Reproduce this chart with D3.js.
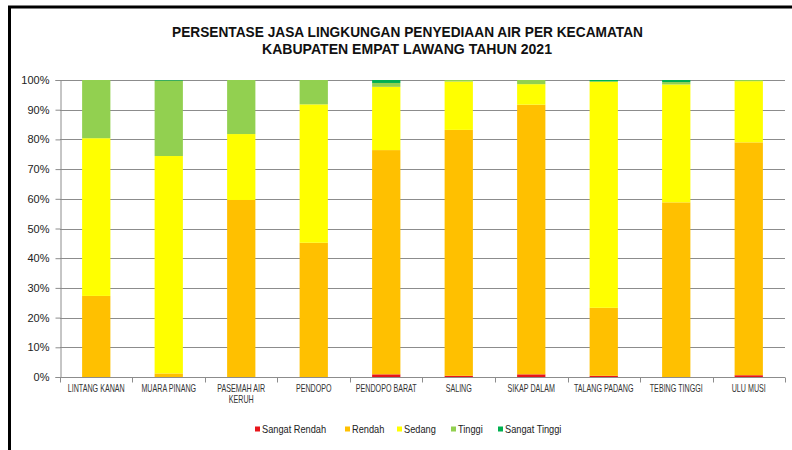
<!DOCTYPE html>
<html>
<head>
<meta charset="utf-8">
<script src="https://cdn.jsdelivr.net/npm/d3@7"></script>
<style>
  body { margin: 0; background: #fff; }
  svg { display: block; }
  text { font-family: "Liberation Sans", Arial, sans-serif; }
</style>
</head>
<body>
<div id="chart"></div>
<script>
/* data, in percent */
var kecamatan = ["LINTANG KANAN", "MUARA PINANG", "PASEMAH AIR KERUH", "PENDOPO", "PENDOPO BARAT",
                 "SALING", "SIKAP DALAM", "TALANG PADANG", "TEBING TINGGI", "ULU MUSI"];
var kelas = ["Sangat Rendah", "Rendah", "Sedang", "Tinggi", "Sangat Tinggi"];
var sangatRendah = [0, 0, 0, 0, 0.9, 0.4, 0.9, 0.4, 0, 0.6];
var rendah       = [27.3, 1.2, 59.6, 45.2, 75.5, 82.8, 90.8, 22.9, 58.8, 78.4];
var sedang       = [53.1, 73.2, 22.2, 46.6, 21.3, 16.3, 6.9, 76.2, 39.7, 20.6];
var tinggi       = [19.6, 25.4, 18.2, 8.2, 1.3, 0.5, 1.4, 0, 0.8, 0.4];
var sangatTinggi = [0, 0.2, 0, 0, 1.0, 0, 0, 0.5, 0.7, 0];
var yTicks = [0, 10, 20, 30, 40, 50, 60, 70, 80, 90, 100];
var warna = ["#e8151b", "#ffc000", "#ffff00", "#92d050", "#00b050"];

var W = 792, H = 450;
var margin = {top: 80, right: 7, bottom: 73, left: 60};

var svg = d3.select("#chart").append("svg").attr("width", W).attr("height", H);

// no narrow font installed, so squeeze text horizontally
function narrow(sel, s) {
  sel.attr("transform", "scale(" + s + ",1)");
}

// frame of the picture
svg.append("rect").attr("x", 0).attr("y", 0).attr("width", W).attr("height", H).attr("fill", "#fff");
svg.append("path")
  .attr("d", "M9.5," + H + "V7H" + W)
  .attr("fill", "none").attr("stroke", "#000").attr("stroke-width", 3);

// title
var title = svg.append("g").attr("font-weight", "bold").attr("font-size", 15).attr("fill", "#111");
title.append("text").attr("x", 172).attr("y", 37)
  .attr("textLength", 471).attr("lengthAdjust", "spacingAndGlyphs")
  .text("PERSENTASE  JASA LINGKUNGAN PENYEDIAAN  AIR PER KECAMATAN");
title.append("text").attr("x", 262).attr("y", 54)
  .attr("textLength", 290).attr("lengthAdjust", "spacingAndGlyphs")
  .text("KABUPATEN EMPAT LAWANG TAHUN 2021");

var rows = kecamatan.map(function(k, i) {
  return {name: k, "Sangat Rendah": sangatRendah[i], "Rendah": rendah[i], "Sedang": sedang[i],
          "Tinggi": tinggi[i], "Sangat Tinggi": sangatTinggi[i]};
});
var series = d3.stack().keys(kelas)(rows);

var x = d3.scaleBand().domain(kecamatan).range([margin.left, W - margin.right]).paddingInner(0.61).paddingOuter(0.305);
var y = d3.scaleLinear().domain([0, 100]).range([H - margin.bottom, margin.top]);
var color = d3.scaleOrdinal().domain(kelas).range(warna);

// gridlines
svg.append("g").selectAll("line").data(yTicks.slice(1)).enter().append("line")
  .attr("x1", margin.left).attr("x2", W - margin.right)
  .attr("y1", function(d) { return Math.round(y(d)) + 0.5; })
  .attr("y2", function(d) { return Math.round(y(d)) + 0.5; })
  .attr("stroke", "#8c8c8c").attr("stroke-width", 1);

// bars
svg.append("g").selectAll("g").data(series).enter().append("g")
  .attr("fill", function(d) { return color(d.key); })
  .selectAll("rect").data(function(d) { return d; }).enter().append("rect")
  .attr("x", function(d) { return x(d.data.name); })
  .attr("width", x.bandwidth())
  .attr("y", function(d) { return y(d[1]); })
  .attr("height", function(d) { return y(d[0]) - y(d[1]); });

// y axis
var yAxis = svg.append("g").attr("transform", "translate(" + (margin.left + 0.5) + ",0)")
  .call(d3.axisLeft(y).tickValues(yTicks).tickSize(5).tickPadding(6).tickFormat(function(d) { return d + "%"; }));
yAxis.select(".domain").attr("stroke", "#8c8c8c");
yAxis.selectAll(".tick line").attr("stroke", "#8c8c8c");
yAxis.selectAll("text").attr("font-family", "Liberation Sans, Arial, sans-serif").attr("font-size", 11).attr("fill", "#222");

// x axis: line with ticks on category boundaries
var y0 = Math.round(y(0)) + 0.5;
svg.append("line").attr("x1", margin.left).attr("x2", W - margin.right).attr("y1", y0).attr("y2", y0)
  .attr("stroke", "#8c8c8c");
var step = x.step();
var bounds = kecamatan.map(function(k) { return x(k) - step * x.paddingInner() / 2; });
bounds.push(W - margin.right);
svg.append("g").selectAll("line").data(bounds).enter().append("line")
  .attr("x1", function(d) { return Math.round(d) + 0.5; }).attr("x2", function(d) { return Math.round(d) + 0.5; })
  .attr("y1", y0).attr("y2", y0 + 5).attr("stroke", "#8c8c8c");

// x labels, wrap long names
var sx = 0.68;
var xl = svg.append("g").selectAll("text").data(kecamatan).enter().append("text")
  .attr("text-anchor", "middle").attr("font-size", 10.5).attr("fill", "#333")
  .attr("y", y0 + 15).call(narrow, sx);
xl.each(function(d) {
  var t = d3.select(this), cx = (x(d) + x.bandwidth() / 2) / sx;
  var lines = d === "PASEMAH AIR KERUH" ? ["PASEMAH AIR", "KERUH"] : [d];
  lines.forEach(function(l, i) {
    t.append("tspan").attr("x", cx).attr("dy", i ? 11 : 0).text(l);
  });
});

// legend
var legendX = [255, 345, 397, 451, 498];
var sl = 0.88;
var lg = svg.append("g").selectAll("g").data(kelas).enter().append("g")
  .attr("transform", function(d, i) { return "translate(" + legendX[i] + ",432)"; });
lg.append("rect").attr("x", 0).attr("y", -5.5).attr("width", 5).attr("height", 5)
  .attr("fill", function(d) { return color(d); });
lg.append("text").attr("x", 7 / sl).attr("y", 0).attr("dy", "0.1em")
  .attr("font-size", 10.5).attr("fill", "#222").call(narrow, sl).text(function(d) { return d; });
</script>
</body>
</html>
